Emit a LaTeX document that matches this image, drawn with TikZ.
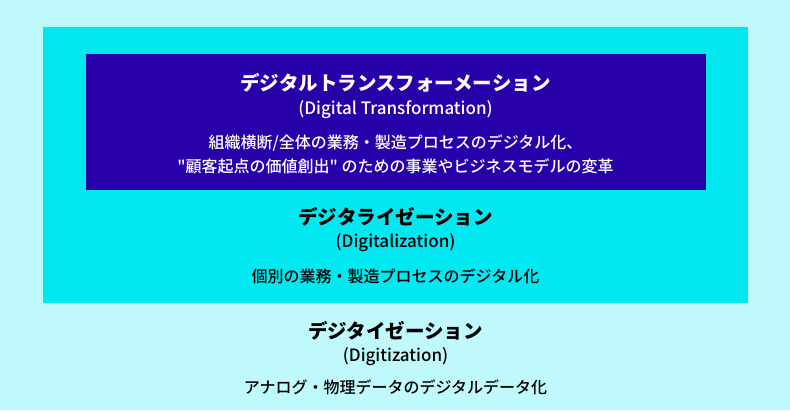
\documentclass[tikz,border=0pt]{standalone}
\usepackage{fontspec}
\setmainfont{Noto Sans CJK JP}[Ligatures=TeXOff]
\newfontfamily\medfont{Noto Sans CJK JP}[UprightFont=* Medium, Ligatures=TeXOff]
\usetikzlibrary{positioning}

\definecolor{bgcyan}{RGB}{192,249,252}
\definecolor{midcyan}{RGB}{0,232,240}
\definecolor{dxblue}{RGB}{40,0,170}

\begin{document}
\begin{tikzpicture}[x=1pt,y=-1pt,
  title/.style={font=\fontsize{19.5}{22}\selectfont\bfseries, inner sep=0pt, anchor=base},
  sub/.style={font=\medfont\fontsize{17}{20}\selectfont, inner sep=0pt, anchor=base},
  body/.style={font=\medfont\fontsize{16}{19}\selectfont, inner sep=0pt, anchor=base}]

\fill[bgcyan] (0,0) rectangle (790,410);
\fill[midcyan] (43,27) rectangle (748,303);
\fill[dxblue] (86,54) rectangle (706,190);

\node[title,white] (dx) at (395.5,90.8) {デジタルトランスフォーメーション};
\node[sub,white] (dx-en) at (395.5,114) {(Digital Transformation)};
\node[body,white] (dx-a) at (395.5,148) {組織横断/全体の業務・製造プロセスのデジタル化、};
\node[body,white] (dx-b) at (395.5,172) {"顧客起点の価値創出" のための事業やビジネスモデルの変革};

\node[title] (dl) at (395.5,224) {デジタライゼーション};
\node[sub] (dl-en) at (395.5,247) {(Digitalization)};
\node[body] (dl-a) at (395.5,282) {個別の業務・製造プロセスのデジタル化};

\node[title] (dz) at (395.5,338.3) {デジタイゼーション};
\node[sub] (dz-en) at (395.5,361) {(Digitization)};
\node[body] (dz-a) at (395.5,393) {アナログ・物理データのデジタルデータ化};
\end{tikzpicture}
\end{document}
